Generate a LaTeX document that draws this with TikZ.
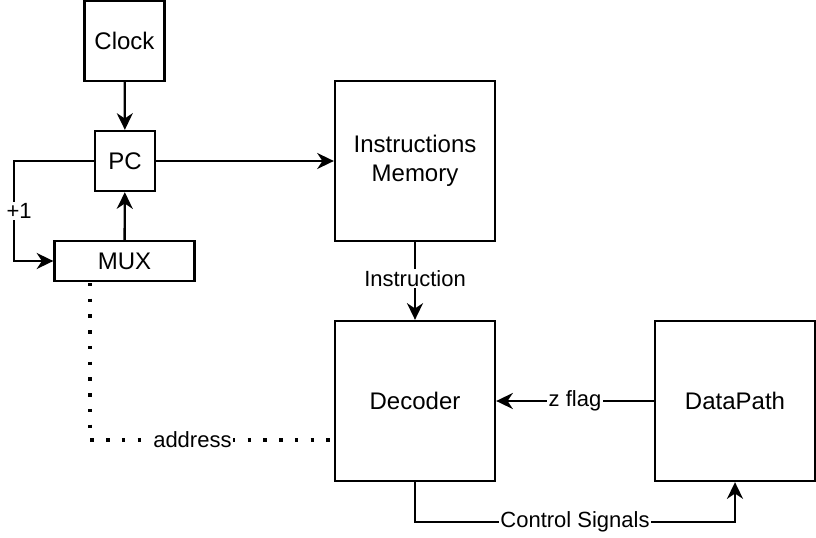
\documentclass[tikz,border=0pt]{standalone}
\usepackage{fontspec}
\setmainfont{Liberation Sans}
\usetikzlibrary{arrows.meta}
\tikzset{
  blk/.style={draw, line width=1.75pt, align=center, inner sep=0pt, font=\fontsize{18}{21.5}\selectfont},
  wire/.style={line width=1.75pt, -{Stealth[length=12.5pt,width=12pt,inset=4pt]}},
  addr/.style={line width=2.6pt, dash pattern=on 2.6pt off 9.2pt},
  lbl/.style={fill=white, inner sep=1pt, font=\fontsize{16.5}{19}\selectfont},
}
\begin{document}
\begin{tikzpicture}[x=0.75pt, y=-0.75pt]
\useasboundingbox (0,0) rectangle (816,538);
\node[blk, minimum width=60pt, minimum height=60pt] (clk) at (124.5,41) {Clock};
\node[blk, minimum width=45pt, minimum height=45pt] (pc) at (125,161) {PC};
\node[blk, minimum width=105pt, minimum height=30pt] (mux) at (124.5,261) {MUX};
\node[blk, minimum width=120pt, minimum height=120pt] (imem) at (415,161) {Instructions\\Memory};
\node[blk, minimum width=120pt, minimum height=120pt] (dec) at (415,401) {Decoder};
\node[blk, minimum width=120pt, minimum height=120pt] (dp) at (735,401) {DataPath};
\coordinate (addrtop) at (90,283);
\draw[wire] (clk) -- (pc);
\draw[wire] (mux) -- (pc);
\draw[wire] (pc) -- (imem);
\draw[wire] (pc.west) -- ++(-80,0) |- node[lbl, pos=0.25, xshift=4pt]{+1} (mux.west);
\draw[wire] (imem) -- node[lbl, yshift=2pt]{Instruction} (dec);
\draw[wire] (dp) -- node[lbl]{z flag} (dec);
\draw[wire] (dec.south) -- ++(0,40) -| node[lbl, pos=0.25]{Control Signals} (dp.south);
\draw[addr] (addrtop) |- node[lbl, pos=0.71]{address} ([yshift=-29.25pt]dec.west);
\end{tikzpicture}
\end{document}
